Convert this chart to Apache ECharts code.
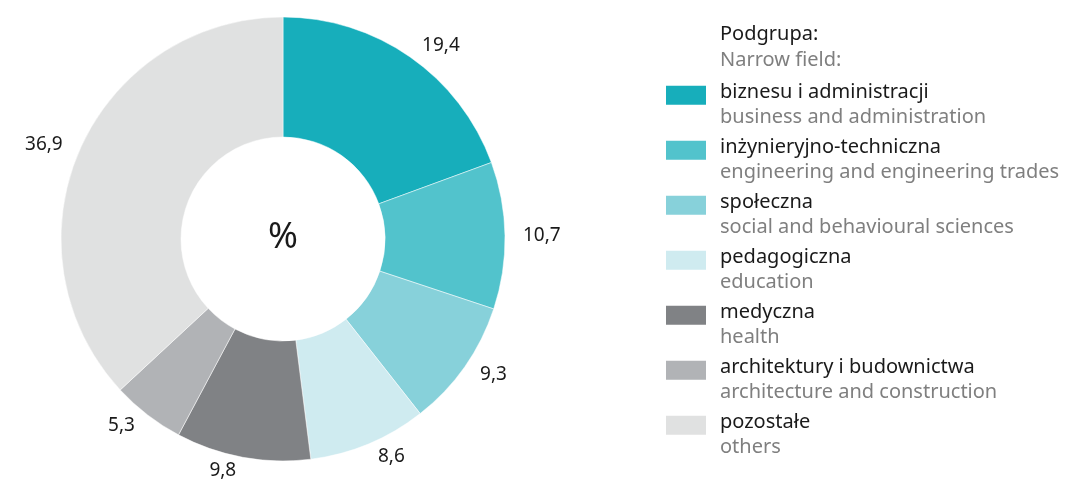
<!DOCTYPE html>
<html>
<head>
<meta charset="utf-8">
<script src="https://cdn.jsdelivr.net/npm/echarts@6/dist/echarts.min.js"></script>
<style>
html,body{margin:0;padding:0;background:#fff;}
#chart{width:1067px;height:484px;}
</style>
</head>
<body>
<div id="chart"></div>
<script>
var namesPl = ['biznesu i administracji', 'inżynieryjno-techniczna', 'społeczna', 'pedagogiczna', 'medyczna', 'architektury i budownictwa', 'pozostałe'];
var namesEn = ['business and administration', 'engineering and engineering trades', 'social and behavioural sciences', 'education', 'health', 'architecture and construction', 'others'];
var values = [19.4, 10.7, 9.3, 8.6, 9.8, 5.3, 36.9];
var colors = ['#17aebb', '#52c3cc', '#87d1da', '#cfebf0', '#808285', '#b1b3b6', '#e0e1e1'];

var font = '"Noto Sans", "Open Sans", sans-serif';

var pieData = [];
for (var i = 0; i < values.length; i++) {
	pieData.push({name: namesPl[i], value: values[i], itemStyle: {color: colors[i]}});
}

var myChart = echarts.init(document.getElementById('chart'));
var option = {
	animation: false,
	title: {
		text: 'Podgrupa:',
		subtext: 'Narrow field:',
		left: 720,
		top: 24,
		itemGap: 6,
		padding: 0,
		textStyle: {fontFamily: font, fontSize: 20, fontWeight: 'normal', color: '#1a1a1a'},
		subtextStyle: {fontFamily: font, fontSize: 20, color: '#7f7f7f'}
	},
	graphic: [{
		type: 'text',
		x: 283,
		y: 238,
		style: {text: '%', font: '36px "Noto Sans", sans-serif', fill: '#1a1a1a', align: 'center', verticalAlign: 'middle'}
	}],
	legend: {
		orient: 'vertical',
		left: 664,
		top: 82,
		padding: 0,
		itemWidth: 42,
		itemHeight: 21,
		itemGap: 10,
		icon: 'rect',
		selectedMode: false,
		data: namesPl,
		formatter: function (name) {
			var idx = namesPl.indexOf(name);
			return '{a|' + name + '}\n{b|' + namesEn[idx] + '}';
		},
		textStyle: {
			fontFamily: font,
			padding: [0, 0, 0, 8],
			rich: {
				a: {fontFamily: font, fontSize: 20, color: '#1a1a1a', lineHeight: 43.5},
				b: {fontFamily: font, fontSize: 20, color: '#7f7f7f', lineHeight: 6.5}
			}
		}
	},
	series: [
		{
			type: 'pie',
			center: [283, 239],
			radius: [102, 222],
			startAngle: 90,
			clockwise: true,
			silent: true,
			avoidLabelOverlap: true,
			label: {
				show: true,
				position: 'outside',
				fontFamily: font,
				fontSize: 19,
				color: '#1a1a1a',
				distanceToLabelLine: 4,
				formatter: function (p) {
					return p.value.toFixed(1).replace('.', ',');
				}
			},
			labelLine: {show: false, length: 14, length2: 0},
			itemStyle: {borderColor: '#ffffff', borderWidth: 0.5},
			emphasis: {disabled: true},
			data: pieData
		}
	]
};
myChart.setOption(option);
</script>
</body>
</html>
